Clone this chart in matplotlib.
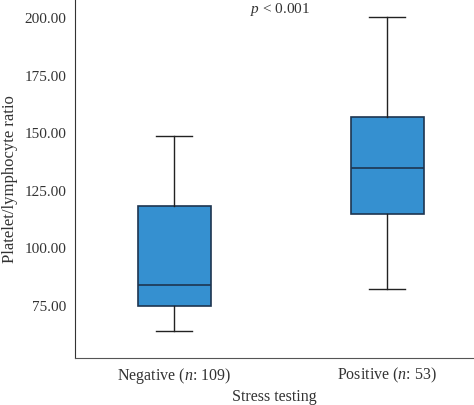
import matplotlib
matplotlib.use("Agg")
import matplotlib.pyplot as plt

categories = ["Negative ($\\it{n}$: 109)", "Positive ($\\it{n}$: 53)"]
whislo = [63.7, 82.0]
q1 = [74.6, 114.5]
med = [83.7, 134.5]
q3 = [118.0, 156.6]
whishi = [148.4, 200.0]
yticks = [75, 100, 125, 150, 175, 200]

plt.rcParams['font.family'] = ['Liberation Serif', 'DejaVu Serif']
plt.rcParams['mathtext.fontset'] = 'custom'
plt.rcParams['mathtext.it'] = 'Liberation Serif:italic'
plt.rcParams['mathtext.rm'] = 'Liberation Serif'

fig = plt.figure(figsize=(4.74, 4.06), dpi=100)
ax = fig.add_axes([75/474, 1 - 359/406, 399/474, 359/406])

stats = []
for i in range(len(categories)):
    stats.append(dict(whislo=whislo[i], q1=q1[i], med=med[i], q3=q3[i], whishi=whishi[i], fliers=[]))

ax.bxp(stats, positions=[0, 1], widths=0.343, patch_artist=True, showfliers=False,
       boxprops=dict(facecolor='#3590d0', edgecolor='#1e3550', linewidth=1.2),
       medianprops=dict(color='#1e3550', linewidth=1.2),
       whiskerprops=dict(color='#222222', linewidth=1.0),
       capprops=dict(color='#222222', linewidth=1.0),
       capwidths=0.17)

ax.set_xlim(-0.465, 1.408)
ax.set_ylim(52, 207.8)
ax.set_yticks(yticks)
ax.set_yticklabels([f"{v:.2f}" for v in yticks], fontsize=11, color='#333333')
ax.set_xticks([0, 1])
ax.set_xticklabels(categories, fontsize=11.5, color='#333333')
ax.tick_params(axis='y', length=0, pad=6)
ax.tick_params(axis='x', length=0, pad=5)
ax.spines['top'].set_visible(False)
ax.spines['right'].set_visible(False)
ax.spines['left'].set_color('#333333')
ax.spines['bottom'].set_color('#555555')
ax.set_ylabel("Platelet/lymphocyte ratio", fontsize=12, color='#333333', labelpad=5)
ax.set_xlabel("Stress testing", fontsize=11.5, color='#333333', labelpad=2)
ax.text(0.5, 203.5, "$\\it{p}$ < 0.001", ha='center', va='center', fontsize=11, color='#333333')

fig.savefig("out.png", dpi=100)
